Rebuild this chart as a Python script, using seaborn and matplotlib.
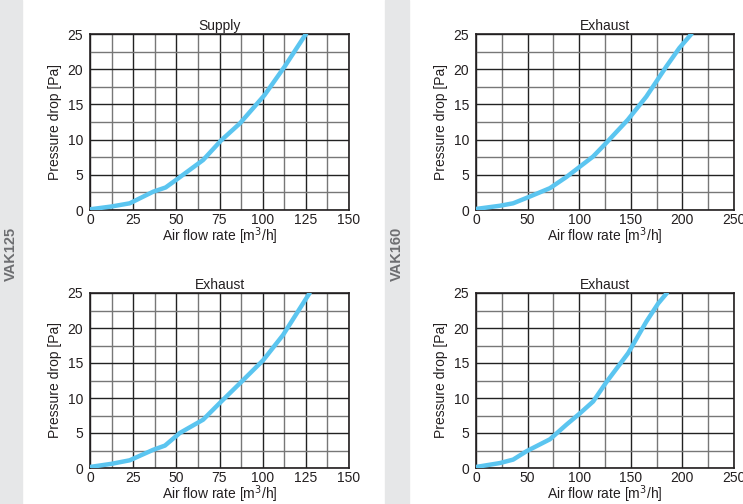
import numpy as np
import pandas as pd
import matplotlib
matplotlib.use("Agg")
import matplotlib.pyplot as plt
import seaborn as sns

# --- data ---
vak125_supply_flow = [0, 12.5, 23, 36.6, 43.8, 50, 65.5, 76, 86.8, 101, 112.8, 125.3]
vak125_supply_dp = [0.1, 0.5, 0.95, 2.6, 3.2, 4.3, 7.1, 9.9, 12.3, 16.3, 20.4, 25.1]

vak160_exhaust1_flow = [0, 23, 36, 52, 71.6, 87.7, 113.5, 126, 147, 165, 184.5, 197, 208.7]
vak160_exhaust1_dp = [0.15, 0.6, 0.95, 1.9, 3.1, 4.7, 7.6, 9.5, 12.8, 16.1, 20.4, 23, 25]

vak125_exhaust_flow = [0, 12.5, 23, 36.6, 43.4, 52, 65.5, 75, 86.8, 100.3, 111.8, 127.2]
vak125_exhaust_dp = [0.15, 0.6, 1.1, 2.6, 3.2, 5.0, 6.9, 9.25, 12.1, 15.4, 19.0, 25]

vak160_exhaust2_flow = [0, 23, 36, 49, 71.6, 87.7, 100.6, 113.5, 126.5, 147.4, 165, 176.5, 185]
vak160_exhaust2_dp = [0.15, 0.7, 1.2, 2.4, 4.1, 6.2, 7.8, 9.5, 12.3, 16.4, 20.9, 23.5, 25]

titles = ["Supply", "Exhaust", "Exhaust", "Exhaust"]
x_max = [150, 250, 150, 250]
x_tick_step = [25, 50, 25, 50]
x_grid_step = [12.5, 25, 12.5, 25]
group_labels = ["VAK125", "VAK160"]

sns.set_style("white")
plt.rcParams["font.family"] = ["Liberation Sans", "DejaVu Sans"]

W, H = 743, 504
fig = plt.figure(figsize=(W / 100, H / 100), dpi=100)

# grey side bands with the model names
for x0, x1, label in [(0, 22, group_labels[0]), (385, 409, group_labels[1])]:
    fig.patches.append(plt.Rectangle((x0 / W, 0), (x1 - x0) / W, 1,
                                     transform=fig.transFigure, color="#e6e7e8", zorder=0))
    fig.text((x0 + x1) / 2 / W, 1 - 254 / H, label, rotation=90, ha="center", va="center",
             fontsize=10.5, fontweight="bold", color="#6d6e71")

# axes boxes in pixels: left, top, right, bottom
boxes = [(90, 34, 349, 210), (476, 34, 734, 210), (90, 293, 349, 468), (476, 293, 734, 468)]
curves = [(vak125_supply_flow, vak125_supply_dp),
          (vak160_exhaust1_flow, vak160_exhaust1_dp),
          (vak125_exhaust_flow, vak125_exhaust_dp),
          (vak160_exhaust2_flow, vak160_exhaust2_dp)]

for i, (l, t, r, b) in enumerate(boxes):
    ax = fig.add_axes([l / W, 1 - b / H, (r - l) / W, (b - t) / H])
    df = pd.DataFrame({"flow": curves[i][0], "dp": curves[i][1]})
    sns.lineplot(data=df, x="flow", y="dp", ax=ax, color="#5bc5f0", linewidth=3.2,
                 sort=False, zorder=3, clip_on=True)
    ax.set_xlim(0, x_max[i])
    ax.set_ylim(0, 25)
    ax.set_xticks(np.arange(0, x_max[i] + 1, x_tick_step[i]))
    ax.set_xticks(np.arange(0, x_max[i] + 1, x_grid_step[i]), minor=True)
    ax.set_yticks(np.arange(0, 26, 5))
    ax.set_yticks(np.arange(0, 26, 2.5), minor=True)
    ax.grid(which="major", color="#222222", linewidth=1.0)
    ax.grid(which="minor", color="#777777", linewidth=1.0)
    ax.tick_params(which="both", length=0, labelsize=10, colors="#231f20")
    ax.tick_params(axis="y", pad=5)
    ax.tick_params(axis="x", pad=2)
    for s in ax.spines.values():
        s.set_color("#231f20")
        s.set_linewidth(1.2)
    ax.set_title(titles[i], fontsize=10, pad=3, color="#231f20")
    ax.set_xlabel("Air flow rate [m$^3$/h]", fontsize=10, labelpad=-1, color="#231f20")
    ax.set_ylabel("Pressure drop [Pa]", fontsize=10, labelpad=4, color="#231f20")

fig.savefig("out.png", dpi=100)
